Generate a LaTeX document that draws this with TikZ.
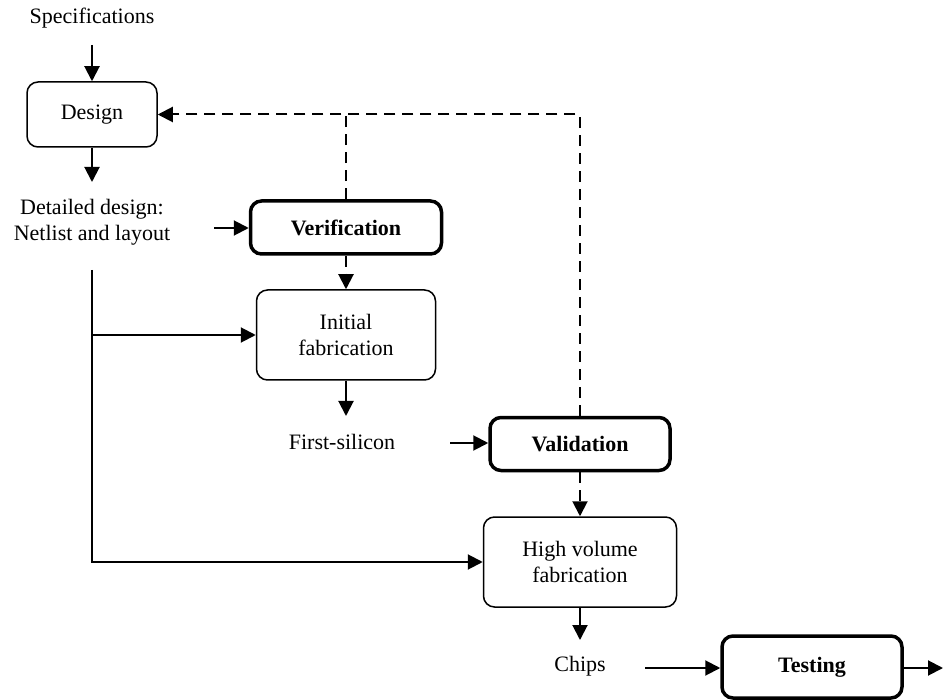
\documentclass[tikz,border=0pt]{standalone}
\usepackage{fontspec}
\setmainfont{Liberation Serif}
\usetikzlibrary{arrows.meta}
\begin{document}
\begin{tikzpicture}[x=0.5pt,y=-0.5pt,
  every node/.style={font=\fontsize{11}{13}\selectfont, inner sep=0pt},
  box/.style={draw, rounded corners=5.5pt, line width=0.75pt, align=center},
  keybox/.style={box, line width=1.75pt, font=\fontsize{11}{13}\selectfont\bfseries},
  txt/.style={align=center},
  flow/.style={line width=1pt, -{Triangle[length=7.5pt,width=7.5pt]}},
  dashline/.style={line width=1pt, dash pattern=on 5.5pt off 3.5pt},
  feedback/.style={flow, dashline}]
\useasboundingbox (0,0) rectangle (943,700);

% process boxes and labels
\node[txt] (spec) at (92,18) {Specifications};
\node[box, minimum width=65pt, minimum height=32.5pt] (design) at (92,114.5) {Design};
\node[txt] (detail) at (92,222.5) {Detailed design:\\Netlist and layout};
\node[keybox, minimum width=95.5pt, minimum height=26.5pt] (verif) at (346,227.5) {Verification};
\node[box, minimum width=89.5pt, minimum height=45pt] (initfab) at (346,335) {Initial\\fabrication};
\node[txt] (silicon) at (342,442) {First-silicon};
\node[keybox, minimum width=90pt, minimum height=26.5pt] (valid) at (580,444) {Validation};
\node[box, minimum width=96.5pt, minimum height=45pt] (hvfab) at (580,562) {High volume\\fabrication};
\node[txt] (chips) at (580,666) {Chips};
\node[keybox, minimum width=90pt, minimum height=31pt] (test) at (812,667) {Testing};

% free ends of connectors
\coordinate (specout) at (92,45);
\coordinate (detailtop) at (92,182);
\coordinate (verin) at (214,228);
\coordinate (trunk) at (92,270);
\coordinate (silicontop) at (346,416);
\coordinate (silin) at (450,443);
\coordinate (chipstop) at (580,640);
\coordinate (chipin) at (645,668);
\coordinate (testout) at (943,668);

% main flow
\draw[flow] (specout) -- (design.north);
\draw[flow] (design.south) -- (detailtop);
\draw[flow] (verin) -- (verif.west |- verin);
\draw[flow] (trunk) |- (hvfab.west);
\draw[flow] (trunk |- initfab.west) -- (initfab.west);
\draw[flow] (initfab.south) -- (silicontop);
\draw[flow] (silin) -- (valid.west |- silin);
\draw[flow] (hvfab.south) -- (chipstop);
\draw[flow] (chipin) -- (test.west |- chipin);
\draw[flow] (test.east |- testout) -- (testout);

% checks and feedback paths
\draw[feedback] (verif.south) -- (initfab.north);
\draw[feedback] (valid.south) -- (hvfab.north);
\draw[dashline] (verif.north) -- (verif.north |- design.east);
\draw[feedback] (valid.north) |- (design.east);
\end{tikzpicture}
\end{document}
